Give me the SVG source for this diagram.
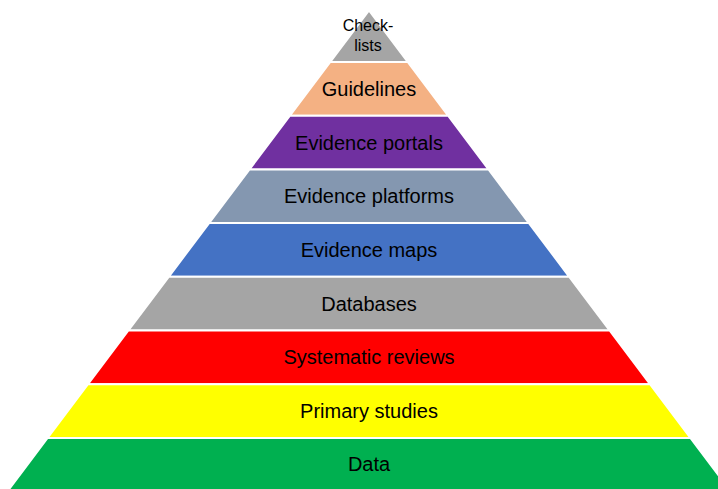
<svg xmlns="http://www.w3.org/2000/svg" width="718" height="489" viewBox="0 0 718 489">
<style>
.band{stroke:#ffffff;stroke-width:2;stroke-linejoin:miter}
.lbl{font-family:"Liberation Sans",Arial,sans-serif;font-size:20px;fill:#000;text-anchor:middle}
.sm{font-size:16px}
</style>
<rect width="718" height="489" fill="#ffffff"/>
<g id="checklists">
<polygon class="band" fill="#A5A5A5" points="369,10.5 407.7,62 330.3,62"/>
<text class="lbl sm" x="368" y="31">Check-</text>
<text class="lbl sm" x="368" y="51">lists</text>
</g>
<g id="guidelines">
<polygon class="band" fill="#F4B183" points="330.3,62 407.7,62 448.1,115.7 289.9,115.7"/>
<text class="lbl" x="369" y="96">Guidelines</text>
</g>
<g id="evidence-portals">
<polygon class="band" fill="#7030A0" points="289.9,115.7 448.1,115.7 488.5,169.4 249.5,169.4"/>
<text class="lbl" x="369" y="149.5">Evidence portals</text>
</g>
<g id="evidence-platforms">
<polygon class="band" fill="#8497B0" points="249.5,169.4 488.5,169.4 528.9,223.1 209.1,223.1"/>
<text class="lbl" x="369" y="203">Evidence platforms</text>
</g>
<g id="evidence-maps">
<polygon class="band" fill="#4472C4" points="209.1,223.1 528.9,223.1 569.3,276.8 168.7,276.8"/>
<text class="lbl" x="369" y="257">Evidence maps</text>
</g>
<g id="databases">
<polygon class="band" fill="#A5A5A5" points="168.7,276.8 569.3,276.8 609.6,330.5 128.4,330.5"/>
<text class="lbl" x="369" y="310.5">Databases</text>
</g>
<g id="systematic-reviews">
<polygon class="band" fill="#FF0000" points="128.4,330.5 609.6,330.5 650,384.2 88,384.2"/>
<text class="lbl" x="369" y="364">Systematic reviews</text>
</g>
<g id="primary-studies">
<polygon class="band" fill="#FFFF00" points="88,384.2 650,384.2 690.4,437.9 47.6,437.9"/>
<text class="lbl" x="369" y="418">Primary studies</text>
</g>
<g id="data">
<polygon class="band" fill="#00B050" points="47.6,437.9 690.4,437.9 731,492 7,492"/>
<text class="lbl" x="369" y="471">Data</text>
</g>
<g id="connectors"></g>
</svg>
